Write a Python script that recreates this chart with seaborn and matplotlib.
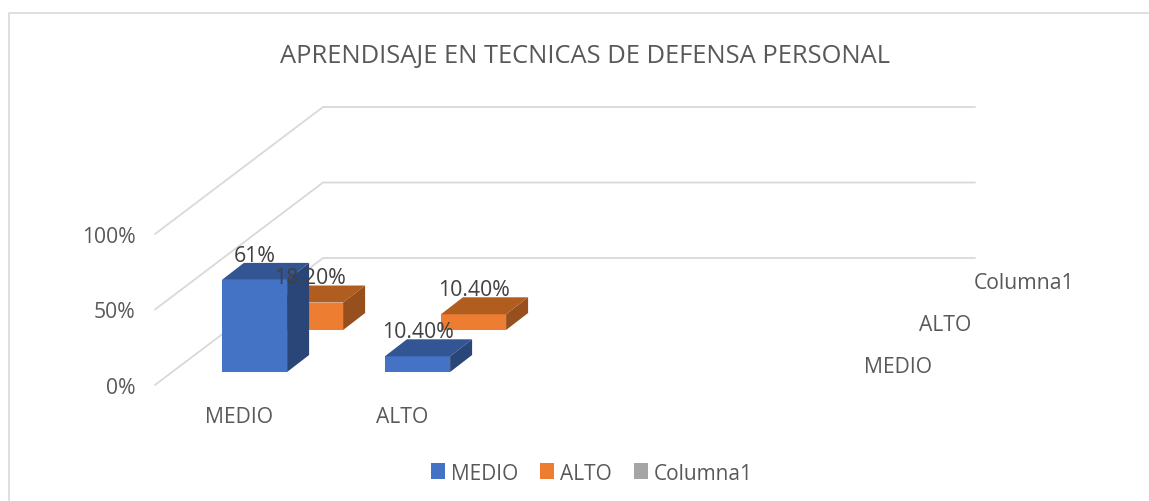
import pandas as pd
import matplotlib
matplotlib.use('Agg')
import matplotlib.pyplot as plt
from matplotlib.patches import Patch, Polygon
import seaborn as sns

# --- Data ---
categories = ['MEDIO', 'ALTO']
series_names = ['MEDIO', 'ALTO', 'Columna1']
medio_values = [61, 10.4]
alto_values = [18.2, 10.4]
medio_labels = ['61%', '10.40%']
alto_labels = ['18.20%', '10.40%']
grid_levels = [0, 50, 100]
grid_labels = ['0%', '50%', '100%']

# --- Colours ---
face_colors = ['#4472C4', '#ED7D31', '#A5A5A5']
top_colors = ['#335593', '#B25D20']
side_colors = ['#2A4679', '#974F1D']
text_color = '#595959'
label_color = '#404040'
line_color = '#D9D9D9'

# --- Fake 3D geometry, in data units (163 px per category, 1.51 px per percent) ---
PX_X = 163.0
PX_Y = 1.51
X0_PX = 254.5
Y0_PX = 373.0
slot_dx = 56 / PX_X        # shift from one series to the one behind it
slot_dy = 42 / PX_Y
depth_dx = 22 / PX_X       # depth of one bar
depth_dy = 17 / PX_Y
n_slots = 4

sns.set_theme(style='white')
plt.rcParams['font.family'] = ['Open Sans', 'DejaVu Sans']

fig = plt.figure(figsize=(11.49, 5.02), dpi=100)
ax = fig.add_axes([0, 0, 1, 1])

df = pd.DataFrame({
    'categoria': categories * 2,
    'serie': ['MEDIO'] * 2 + ['ALTO'] * 2,
    'valor': medio_values + alto_values,
    'etiqueta': medio_labels + alto_labels,
})


def draw_series(name, index):
    # back series first so the front one covers it
    sub = df[df['serie'] == name]
    before = len(ax.patches)
    sns.barplot(data=sub, x='categoria', y='valor', order=categories, color=face_colors[index],
                width=0.4, saturation=1, errorbar=None, ax=ax, zorder=3 + (2 - index))
    bars = ax.patches[before:]
    for bar, label in zip(bars, sub['etiqueta']):
        bar.set_x(bar.get_x() + index * slot_dx)
        bar.set_y(bar.get_y() + index * slot_dy)
        bar.set_linewidth(0)
        left = bar.get_x()
        right = left + bar.get_width()
        low = bar.get_y()
        high = low + bar.get_height()
        z = bar.get_zorder()
        ax.add_patch(Polygon([(left, high), (right, high), (right + depth_dx, high + depth_dy),
                              (left + depth_dx, high + depth_dy)],
                             facecolor=top_colors[index], linewidth=0, zorder=z))
        ax.add_patch(Polygon([(right, low), (right + depth_dx, low + depth_dy),
                              (right + depth_dx, high + depth_dy), (right, high)],
                             facecolor=side_colors[index], linewidth=0, zorder=z))
        ax.text((left + right) / 2, high + depth_dy + 5.0, label, ha='center', va='center',
                fontsize=15.3, color=label_color, zorder=10)


# --- Walls ---
wall_x0 = (155 - 254.5) / PX_X
wall_y0 = -13 / PX_Y
wall_back_dx = 168 / PX_X
wall_back_dy = 127 / PX_Y
for level in grid_levels:
    ax.plot([wall_x0, wall_x0 + wall_back_dx, wall_x0 + wall_back_dx + n_slots],
            [level + wall_y0, level + wall_y0 + wall_back_dy, level + wall_y0 + wall_back_dy],
            color=line_color, linewidth=1.3, zorder=1)

draw_series('ALTO', 1)
draw_series('MEDIO', 0)

ax.set_xlim(-X0_PX / PX_X, (1149 - X0_PX) / PX_X)
ax.set_ylim((Y0_PX - 502) / PX_Y, Y0_PX / PX_Y)
ax.axis('off')

# --- Axis texts ---
for level, label in zip(grid_levels, grid_labels):
    ax.text(-0.73, level - 10, label, ha='right', va='center', fontsize=15.2, color=text_color)
for i, name in enumerate(categories):
    ax.text(i - 0.095, -29.5, name, ha='center', va='center', fontsize=15.2, color=text_color)
for i, name in enumerate(series_names):
    ax.text(3.74 + i * slot_dx * 0.98, 3.7 + i * slot_dy, name, ha='left', va='center',
            fontsize=15.2, color=text_color)

# --- Title, legend, outer frame ---
fig.text(585.5 / 1149, 1 - 56 / 502, 'APRENDISAJE EN TECNICAS DE DEFENSA PERSONAL',
         ha='center', va='center', fontsize=18.4, color=text_color)
handles = [Patch(facecolor=c, edgecolor='none') for c in face_colors]
fig.legend(handles, series_names, loc='center', bbox_to_anchor=(592 / 1149, 1 - 474 / 502), ncol=3,
           frameon=False, fontsize=15, labelcolor=text_color, handlelength=0.67, handleheight=0.77,
           handletextpad=0.29, columnspacing=1.05)
fig.add_artist(plt.Line2D([9 / 1149, 9 / 1149, 1149 / 1149], [0, 1 - 13.5 / 502, 1 - 13.5 / 502],
                          color=line_color, linewidth=1.2))

plt.savefig('out.png', dpi=100)
plt.close()
